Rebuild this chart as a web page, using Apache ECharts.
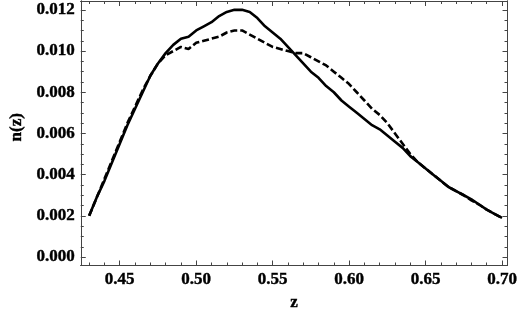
<!DOCTYPE html>
<html>
<head>
<meta charset="utf-8">
<script src="https://cdn.jsdelivr.net/npm/echarts@6/dist/echarts.min.js"></script>
<style>
html,body{margin:0;padding:0;background:#fff;}
#chart{width:520px;height:316px;}
</style>
</head>
<body>
<div id="chart"></div>
<script>
// z grid (x-axis)
const zValues = [0.430,0.435,0.440,0.445,0.450,0.455,0.460,0.465,0.470,0.475,
  0.480,0.485,0.490,0.495,0.500,0.505,0.510,0.515,0.520,0.525,
  0.530,0.535,0.540,0.545,0.550,0.555,0.560,0.565,0.570,0.575,
  0.580,0.585,0.590,0.595,0.600,0.605,0.610,0.615,0.620,0.625,
  0.630,0.635,0.640,0.645,0.650,0.655,0.660,0.665,0.670,0.675,
  0.680,0.685,0.690,0.695,0.700];
// solid curve n(z)
const solidValues = [0.0020,0.0029,0.0037,0.0046,0.0055,0.0064,0.0072,0.0080,0.0088,0.0094,
  0.0099,0.0103,0.0106,0.0107,0.0110,0.0112,0.0114,0.0117,0.0119,0.0120,
  0.0120,0.0119,0.0116,0.0112,0.0109,0.0106,0.0102,0.0098,0.0094,0.0090,
  0.0087,0.0083,0.0080,0.0076,0.0073,0.0070,0.0067,0.0064,0.0062,0.0059,
  0.0056,0.0053,0.0049,0.0046,0.0043,0.0040,0.0037,0.0034,0.0032,0.0030,
  0.0028,0.00255,0.0023,0.0021,0.0019];
// dashed curve n(z)
const dashedValues = [0.0020,0.0029,0.0038,0.0047,0.0056,0.0065,0.0073,0.0081,0.0088,0.0094,
  0.0098,0.0100,0.0102,0.0101,0.0104,0.0105,0.0106,0.0107,0.0109,0.0110,
  0.0110,0.0108,0.0106,0.0104,0.0102,0.0101,0.0100,0.0099,0.0099,0.0097,
  0.0095,0.0093,0.0090,0.0087,0.0084,0.0080,0.0076,0.0072,0.0069,0.0065,
  0.0060,0.0055,0.0050,0.0046,0.0043,0.0040,0.0037,0.0034,0.0032,0.0030,
  0.00275,0.00255,0.0023,0.0021,0.0019];
// tick labels
const xTicks = [0.45,0.50,0.55,0.60,0.65,0.70];
const xMinorTicks = [0.43,0.44,0.46,0.47,0.48,0.49,0.51,0.52,0.53,0.54,0.56,0.57,0.58,0.59,0.61,0.62,0.63,0.64,0.66,0.67,0.68,0.69];
const yTicks = [0.000,0.002,0.004,0.006,0.008,0.010,0.012];
const yMinorTicks = [0.0005,0.001,0.0015,0.0025,0.003,0.0035,0.0045,0.005,0.0055,0.0065,0.007,0.0075,0.0085,0.009,0.0095,0.0105,0.011,0.0115];

const X_MIN = 0.4245, X_MAX = 0.7036, Y_MIN = -0.00041, Y_MAX = 0.01243;
const axisColor = '#444';
const font = {fontFamily:'Liberation Serif', fontWeight:'bold', fontSize:17, color:'#000',
  textBorderColor:'#000', textBorderWidth:0.4};

function xAx(pos, ticks, len, labels, name){
  return {
    type:'value', position:pos, min:X_MIN, max:X_MAX,
    axisLine:{show:true, onZero:false, lineStyle:{color:axisColor, width:1}},
    axisTick:{show:true, inside:true, length:len, customValues:ticks, lineStyle:{color:axisColor, width:1}},
    axisLabel:{show:labels, customValues:ticks, margin:6, formatter:v=>v.toFixed(2), ...font},
    splitLine:{show:false},
    name: name || '', nameLocation:'middle', nameGap:25, nameTextStyle:{...font}
  };
}
function yAx(pos, ticks, len, labels, name){
  return {
    type:'value', position:pos, min:Y_MIN, max:Y_MAX,
    axisLine:{show:true, onZero:false, lineStyle:{color:axisColor, width:1}},
    axisTick:{show:true, inside:true, length:len, customValues:ticks, lineStyle:{color:axisColor, width:1}},
    axisLabel:{show:labels, customValues:ticks, margin:6, formatter:v=>v.toFixed(3), ...font},
    splitLine:{show:false},
    name: name || '', nameLocation:'middle', nameGap:52, nameTextStyle:{...font, padding:[0,0,0,12]}
  };
}

const chart = echarts.init(document.getElementById('chart'), null, {renderer:'canvas'});
chart.setOption({
  animation:false,
  backgroundColor:'#fff',
  grid:{left:72, right:11, top:1, bottom:43, containLabel:false},
  xAxis:[
    xAx('bottom', xTicks, 5, true, 'z'),
    xAx('bottom', xMinorTicks, 3, false),
    xAx('top', xTicks, 5, false),
    xAx('top', xMinorTicks, 3, false)
  ],
  yAxis:[
    yAx('left', yTicks, 5, true, 'n(z)'),
    yAx('left', yMinorTicks, 3, false),
    yAx('right', yTicks, 5, false),
    yAx('right', yMinorTicks, 3, false)
  ],
  series:[
    {type:'line', xAxisIndex:0, yAxisIndex:0, showSymbol:false, symbol:'none',
     data: zValues.map((z,i)=>[z, solidValues[i]]),
     lineStyle:{color:'#000', width:2.6}},
    {type:'line', xAxisIndex:0, yAxisIndex:0, showSymbol:false, symbol:'none',
     data: zValues.map((z,i)=>[z, dashedValues[i]]),
     lineStyle:{color:'#000', width:2.6, type:[7,3]}}
  ]
});
</script>
</body>
</html>
